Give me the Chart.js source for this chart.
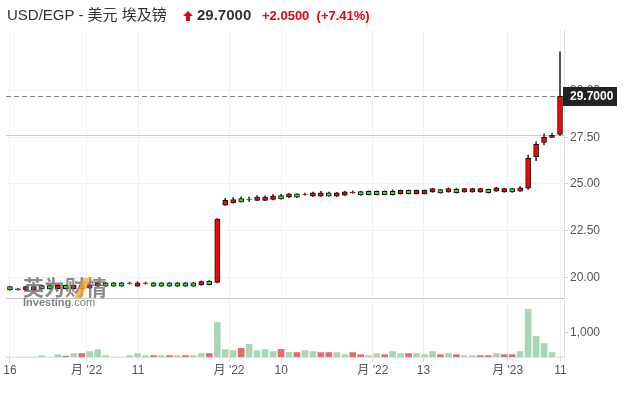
<!DOCTYPE html>
<html>
<head>
<meta charset="utf-8">
<script src="https://cdn.jsdelivr.net/npm/chart.js@4.4.1/dist/chart.umd.min.js"></script>
<style>
  html, body { margin: 0; padding: 0; background: #fff; }
  #wrap { position: relative; width: 626px; height: 393px; overflow: hidden;
          font-family: "Liberation Sans", Arial, "Noto Sans CJK SC", sans-serif; }
  #main { position: absolute; left: 0; top: 0; }
  #vol { position: absolute; left: 0; top: 300px; }
  .t { position: absolute; white-space: nowrap; line-height: 18px; }
  #name { left: 7px; top: 6px; font-size: 15px; color: #333; }
  #arrow { position: absolute; left: 183px; top: 11px; }
  #price { left: 197px; top: 6px; font-size: 15px; font-weight: bold; color: #333; }
  #chg { left: 262px; top: 7px; font-size: 13px; font-weight: bold; color: #e8000b; }
  #wm { position: absolute; left: 23px; top: 274px; pointer-events: none; }
  #wm .cn { font-family: "Noto Sans CJK SC", sans-serif; font-size: 21px; font-weight: bold;
            color: rgba(105,105,105,0.78); line-height: 24px; letter-spacing: 0px; }
  #wm .slash { position: absolute; left: 56px; top: 4px; width: 7px; height: 20px;
               background: rgba(255,170,30,0.75); transform: skewX(-25deg); }
  #wm .en { font-size: 11px; color: rgba(105,105,105,0.85); line-height: 11px; margin-top: -1px; }
</style>
</head>
<body>
<div id="wrap">
  <canvas id="main" width="626" height="300"></canvas>
  <canvas id="vol" width="626" height="93"></canvas>
  <div class="t" id="name">USD/EGP - 美元 埃及镑</div>
  <svg id="arrow" width="10" height="10" viewBox="0 0 10 10"><polygon points="5,0 10,5 7,5 7,10 3,10 3,5 0,5" fill="#e8000b"/></svg>
  <div class="t" id="price">29.7000</div>
  <div class="t" id="chg">+2.0500 &nbsp;(+7.41%)</div>
  <div id="wm">
    <div class="cn">英为财情</div>
    <div class="slash"></div>
    <div class="en"><b>Investing</b>.com</div>
  </div>
</div>
<script>
// daily candles, oldest first
const opens = [19.50, 19.39, 19.32, 19.32, 19.56, 19.56, 19.39, 19.57, 19.39, 19.57,
  19.42, 19.53, 19.71, 19.71, 19.71, 19.67, 19.53, 19.67, 19.71, 19.71,
  19.71, 19.71, 19.71, 19.71, 19.59, 19.79, 19.73, 23.86, 23.99, 24.22,
  24.17, 24.12, 24.12, 24.17, 24.38, 24.29, 24.47, 24.44, 24.35, 24.35,
  24.53, 24.35, 24.40, 24.54, 24.59, 24.61, 24.61, 24.61, 24.61, 24.48,
  24.66, 24.48, 24.48, 24.57, 24.70, 24.57, 24.71, 24.57, 24.57, 24.57,
  24.71, 24.62, 24.57, 24.75, 24.62, 24.77, 26.46, 27.23, 27.50, 27.65];
const closes = [19.32, 19.33, 19.50, 19.50, 19.38, 19.38, 19.57, 19.39, 19.57, 19.39,
  19.60, 19.71, 19.53, 19.53, 19.53, 19.69, 19.71, 19.69, 19.53, 19.53,
  19.53, 19.53, 19.53, 19.53, 19.77, 19.61, 23.11, 24.13, 24.17, 24.04,
  24.19, 24.30, 24.30, 24.35, 24.20, 24.47, 24.29, 24.46, 24.53, 24.53,
  24.35, 24.53, 24.58, 24.56, 24.41, 24.43, 24.43, 24.43, 24.43, 24.66,
  24.48, 24.66, 24.66, 24.75, 24.52, 24.75, 24.53, 24.75, 24.75, 24.75,
  24.53, 24.80, 24.75, 24.57, 24.80, 26.38, 27.13, 27.50, 27.61, 29.70];
const highs = [19.52, 19.41, 19.52, 19.52, 19.58, 19.58, 19.60, 19.59, 19.59, 19.59,
  19.63, 19.73, 19.73, 19.73, 19.73, 19.74, 19.76, 19.75, 19.73, 19.73,
  19.73, 19.73, 19.73, 19.73, 19.81, 19.83, 23.15, 24.23, 24.27, 24.31,
  24.30, 24.38, 24.37, 24.43, 24.45, 24.49, 24.49, 24.51, 24.56, 24.60,
  24.56, 24.55, 24.61, 24.63, 24.61, 24.63, 24.63, 24.63, 24.69, 24.68,
  24.68, 24.68, 24.68, 24.77, 24.72, 24.80, 24.78, 24.77, 24.77, 24.77,
  24.73, 24.82, 24.77, 24.77, 24.86, 26.55, 27.26, 27.68, 27.71, 32.08];
const lows = [19.30, 19.31, 19.30, 19.30, 19.36, 19.36, 19.37, 19.37, 19.37, 19.37,
  19.40, 19.51, 19.51, 19.51, 19.51, 19.63, 19.51, 19.63, 19.51, 19.51,
  19.51, 19.51, 19.51, 19.51, 19.57, 19.59, 19.70, 23.84, 23.97, 24.02,
  24.06, 24.10, 24.10, 24.15, 24.18, 24.27, 24.27, 24.40, 24.33, 24.33,
  24.33, 24.33, 24.38, 24.50, 24.39, 24.41, 24.41, 24.41, 24.41, 24.46,
  24.46, 24.46, 24.46, 24.55, 24.50, 24.55, 24.51, 24.55, 24.55, 24.55,
  24.51, 24.60, 24.55, 24.55, 24.60, 24.71, 26.25, 27.09, 27.48, 27.60];
const volumes = [0, 0, 0, 0, 55, 0, 95, 40, 140, 140,
  220, 300, 55, 0, 0, 55, 140, 55, 55, 55,
  55, 55, 55, 55, 140, 140, 1390, 300, 260, 350,
  515, 260, 300, 220, 310, 180, 180, 260, 220, 180,
  180, 180, 95, 180, 95, 55, 140, 95, 220, 140,
  140, 140, 95, 220, 95, 140, 95, 55, 55, 55,
  55, 140, 95, 95, 220, 1920, 840, 545, 180, 0];
// 1 = red volume bar, 0 = green
const volRed = [0, 0, 0, 0, 0, 0, 0, 1, 0, 1,
  0, 0, 0, 0, 0, 0, 0, 0, 1, 0,
  1, 0, 1, 0, 0, 1, 0, 0, 0, 1,
  0, 0, 0, 0, 1, 0, 1, 0, 0, 1,
  1, 0, 0, 1, 1, 0, 0, 1, 0, 0,
  1, 0, 0, 0, 1, 0, 1, 0, 0, 1,
  1, 0, 1, 1, 0, 0, 0, 0, 0, 0];

const xTickPos = [0, 9.61, 16.07, 27.48, 34.02, 45.52, 51.88, 62.44, 69.05];
const xTickLabels = ["16", "月 '22", "11", "月 '22", "10", "月 '22", "13", "月 '23", "11"];
const priceTicks = [20, 22.5, 25, 27.5, 30];
const volTicks = [1000];
const prevClose = 27.65;
const lastClose = closes[closes.length - 1];

Chart.defaults.font.family = '"Liberation Sans", Arial, "Noto Sans CJK SC", sans-serif';
Chart.defaults.font.size = 12;
Chart.defaults.color = '#555';

const idx = opens.map((_, i) => i);
const UP = '#ff0000', DOWN = '#2ee62e';
const GRID = '#f1f1f1';

// right-hand axes: fixed width, no extra padding from half label heights
const fitRight = s => { s.width = 62; s.paddingTop = 0; s.paddingBottom = 0; };

const priceMarks = {
  id: 'priceMarks',
  beforeDatasetsDraw(chart) {
    const { ctx, chartArea: a, scales: { y } } = chart;
    ctx.save();
    ctx.lineWidth = 1;
    const yp = Math.round(y.getPixelForValue(prevClose)) + 0.5;
    ctx.strokeStyle = '#f5bcbc';
    ctx.beginPath(); ctx.moveTo(a.left, yp); ctx.lineTo(a.right, yp); ctx.stroke();
    const yc = Math.round(y.getPixelForValue(lastClose)) + 0.5;
    ctx.strokeStyle = '#808080';
    ctx.setLineDash([5, 3]);
    ctx.beginPath(); ctx.moveTo(a.left, yc); ctx.lineTo(a.right, yc); ctx.stroke();
    ctx.restore();
  },
  afterDraw(chart) {
    const { ctx, chartArea: a, scales: { y } } = chart;
    const yc = y.getPixelForValue(lastClose);
    ctx.save();
    ctx.fillStyle = '#222';
    ctx.fillRect(a.right - 1, Math.round(yc) - 9, 54, 19);
    ctx.fillStyle = '#fff';
    ctx.font = 'bold 12px "Liberation Sans", Arial, sans-serif';
    ctx.textBaseline = 'middle';
    ctx.fillText(lastClose.toFixed(4), a.right + 6, Math.round(yc) + 1);
    ctx.restore();
  }
};

new Chart(document.getElementById('main'), {
  type: 'bar',
  data: {
    datasets: [
      {
        label: 'body',
        data: idx.map(i => ({ x: i, y: [opens[i], closes[i]] })),
        backgroundColor: idx.map(i => closes[i] >= opens[i] ? UP : DOWN),
        borderColor: '#111',
        borderWidth: 1,
        borderSkipped: false,
        barThickness: 5,
        grouped: false,
        order: 0
      },
      {
        label: 'wick',
        data: idx.map(i => ({ x: i, y: [lows[i], highs[i]] })),
        backgroundColor: '#333',
        borderWidth: 0,
        barThickness: 1,
        grouped: false,
        order: 1
      }
    ]
  },
  options: {
    responsive: false,
    animation: false,
    layout: { padding: { left: 6, right: 0, top: 30, bottom: 2 } },
    plugins: { legend: { display: false }, tooltip: { enabled: false } },
    scales: {
      x: {
        type: 'linear', min: -0.5, max: 69.5, offset: false,
        grid: { offset: false, color: GRID, drawTicks: false },
        border: { display: true, color: '#c6c6c6' },
        ticks: { display: false },
        afterBuildTicks: s => { s.ticks = xTickPos.map(v => ({ value: v })); },
        afterFit: s => { s.height = 0; s.paddingLeft = 0; s.paddingRight = 0; }
      },
      y: {
        position: 'right', min: 18.893, max: 33.247,
        afterBuildTicks: s => { s.ticks = priceTicks.map(v => ({ value: v })); },
        afterFit: fitRight,
        grid: { color: GRID, tickLength: 4, tickColor: '#cfcfcf' },
        border: { display: true, color: '#dde2ea' },
        ticks: { padding: 2, color: '#555', callback: v => v.toFixed(2) }
      }
    }
  },
  plugins: [priceMarks]
});

new Chart(document.getElementById('vol'), {
  type: 'bar',
  data: {
    datasets: [{
      data: idx.map(i => ({ x: i, y: volumes[i] })),
      backgroundColor: idx.map(i => volRed[i] ? '#e36b6b' : '#a6d6b5'),
      borderWidth: 0,
      barThickness: 6
    }]
  },
  options: {
    responsive: false,
    animation: false,
    layout: { padding: { left: 6, right: 0, top: 0, bottom: 0 } },
    plugins: { legend: { display: false }, tooltip: { enabled: false } },
    scales: {
      x: {
        type: 'linear', min: -0.5, max: 69.5, offset: false,
        grid: { offset: false, color: GRID, tickLength: 5, tickColor: '#dcdcdc' },
        border: { display: true, color: '#e2e2e2' },
        ticks: { autoSkip: false, maxRotation: 0, padding: 1, color: '#555',
                 callback: (v, i) => xTickLabels[i] },
        afterBuildTicks: s => { s.ticks = xTickPos.map(v => ({ value: v })); },
        afterFit: s => { s.height = 36; s.paddingLeft = 0; s.paddingRight = 0; }
      },
      y: {
        position: 'right', min: 0, max: 2300,
        afterBuildTicks: s => { s.ticks = volTicks.map(v => ({ value: v })); },
        afterFit: fitRight,
        grid: { drawOnChartArea: false, tickLength: 4, tickColor: '#cfcfcf' },
        border: { display: true, color: '#dde2ea' },
        ticks: { padding: 2, color: '#555', callback: v => v.toLocaleString('en-US') }
      }
    }
  }
});
</script>
</body>
</html>
